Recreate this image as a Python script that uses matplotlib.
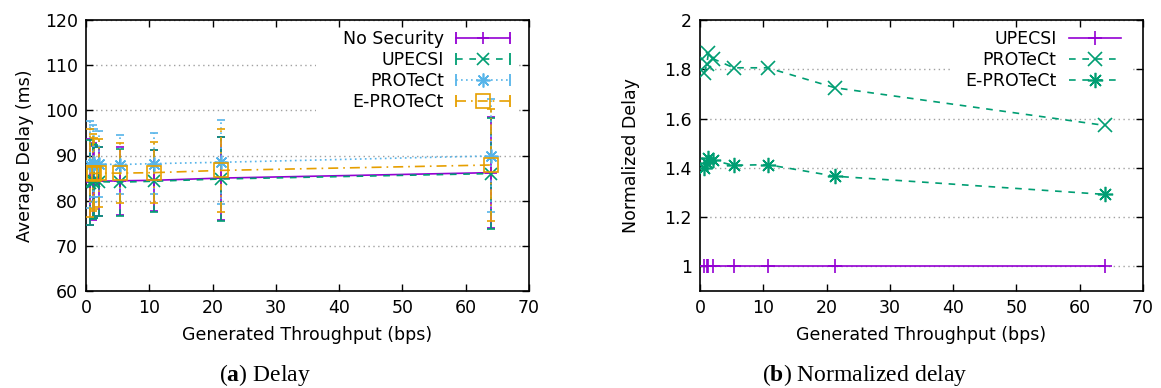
import matplotlib
matplotlib.use("Agg")
import matplotlib.pyplot as plt
from matplotlib.lines import Line2D
from matplotlib.patches import Rectangle
from matplotlib.legend_handler import HandlerBase
from matplotlib.container import ErrorbarContainer

plt.rcParams['font.family'] = ['DejaVu Sans']
plt.rcParams['mathtext.fontset'] = 'custom'
plt.rcParams['mathtext.rm'] = 'Liberation Serif'
plt.rcParams['mathtext.bf'] = 'Liberation Serif:bold'

# ---------------- data ----------------
throughput = [0.67, 1.07, 1.33, 2.13, 5.33, 10.67, 21.33, 64.0]

nosec_mean = [84.2, 84.3, 84.2, 84.3, 84.4, 84.5, 85.0, 86.2]
nosec_err = [9.5, 8.5, 8.0, 7.6, 7.5, 6.8, 9.2, 12.3]
upecsi_mean = [84.0, 84.2, 84.3, 84.2, 84.1, 84.3, 84.8, 86.0]
upecsi_err = [9.4, 8.3, 8.1, 7.6, 7.4, 6.9, 9.3, 12.2]
protect_mean = [88.0, 88.2, 88.3, 88.1, 88.0, 88.2, 88.5, 89.9]
protect_err = [9.6, 8.5, 7.5, 7.3, 6.5, 6.7, 9.3, 12.5]
eprotect_mean = [86.1, 86.2, 86.0, 86.1, 86.1, 86.2, 86.7, 87.9]
eprotect_err = [9.8, 8.5, 7.8, 7.6, 6.7, 6.7, 9.2, 12.3]

norm_upecsi = [1.003, 1.003, 1.003, 1.003, 1.003, 1.003, 1.003, 1.003]
norm_protect = [1.785, 1.82, 1.865, 1.842, 1.806, 1.806, 1.725, 1.572]
norm_eprotect = [1.40, 1.42, 1.44, 1.43, 1.41, 1.413, 1.366, 1.292]

labels_a = ["No Security", "UPECSI", "PROTeCt", "E-PROTeCt"]
labels_b = ["UPECSI", "PROTeCt", "E-PROTeCt"]
xticks = [0, 10, 20, 30, 40, 50, 60, 70]
yticks_a = [60, 70, 80, 90, 100, 110, 120]
yticks_b = [1, 1.2, 1.4, 1.6, 1.8, 2]
yticklabels_b = ["1", "1.2", "1.4", "1.6", "1.8", "2"]

PURPLE = "#9400d3"
GREEN = "#009e73"
BLUE = "#56b4e9"
ORANGE = "#e69f00"
FS = 12.5
AST = (8, 2, 0)


class GnuHandler(HandlerBase):
    def __init__(self, caps=True, **kw):
        super().__init__(**kw)
        self.caps = caps

    def create_artists(self, legend, orig_handle, xdescent, ydescent,
                       width, height, fontsize, trans):
        orig = orig_handle[0] if isinstance(orig_handle, ErrorbarContainer) else orig_handle
        y = height / 2.0 - ydescent
        x0 = -xdescent
        x1 = x0 + width
        arts = []
        ln = Line2D([x0, x1], [y, y])
        ln.update_from(orig)
        ln.set_marker('None')
        arts.append(ln)
        mk = Line2D([(x0 + x1) / 2.0], [y], linestyle='none', marker=orig.get_marker(),
                    markersize=orig.get_markersize(), markeredgecolor=orig.get_markeredgecolor(),
                    markerfacecolor=orig.get_markerfacecolor(),
                    markeredgewidth=orig.get_markeredgewidth())
        arts.append(mk)
        if self.caps:
            cp = Line2D([x0, x1], [y, y], linestyle='none', marker='|', markersize=8,
                        color=orig.get_color(), markeredgewidth=1.3)
            arts.append(cp)
        for a in arts:
            a.set_transform(trans)
        return arts


def style_axes(ax):
    ax.set_xlim(0, 70)
    ax.set_xticks(xticks)
    ax.tick_params(direction='in', top=True, right=True, length=5, width=1.0,
                   labelsize=FS, pad=6)
    for s in ax.spines.values():
        s.set_linewidth(1.2)
    ax.set_axisbelow(True)
    ax.yaxis.grid(True, color='#a0a0a0', linestyle=(0, (1, 2.5)), linewidth=1.0)
    ax.xaxis.grid(False)
    ax.set_xlabel("Generated Throughput (bps)", fontsize=FS, labelpad=6)


fig = plt.figure(figsize=(11.61, 3.88), dpi=100)
axA = fig.add_axes([86 / 1161, 97 / 388, 443 / 1161, 271 / 388])
axB = fig.add_axes([700 / 1161, 97 / 388, 443 / 1161, 271 / 388])

# ---------------- panel (a) ----------------
style_axes(axA)
axA.set_ylim(60, 120)
axA.set_yticks(yticks_a)
axA.set_ylabel("Average Delay (ms)", fontsize=FS, labelpad=8)

lw = 1.2
h1 = axA.errorbar(throughput, nosec_mean, yerr=nosec_err, color=PURPLE, lw=lw,
                  marker='+', ms=9, mew=1.2, capsize=3, elinewidth=lw, capthick=1.2,
                  label=labels_a[0], zorder=3)
h2 = axA.errorbar(throughput, upecsi_mean, yerr=upecsi_err, color=GREEN, lw=lw,
                  ls=(0, (4, 4)), marker='x', ms=8, mew=1.2, capsize=3, elinewidth=lw,
                  capthick=1.2, label=labels_a[1], zorder=3)
h2[2][0].set_linestyle((0, (4, 4)))
h3 = axA.errorbar(throughput, protect_mean, yerr=protect_err, color=BLUE, lw=lw,
                  ls=(0, (1, 2)), marker=AST, ms=10, mew=1.2, capsize=3, elinewidth=lw,
                  capthick=1.2, label=labels_a[2], zorder=3)
h3[2][0].set_linestyle((0, (1, 2)))
h4 = axA.errorbar(throughput, eprotect_mean, yerr=eprotect_err, color=ORANGE, lw=lw,
                  ls=(0, (6, 3, 1, 3)), marker='s', ms=10, mew=1.2, mfc='none',
                  capsize=3, elinewidth=lw, capthick=1.2, label=labels_a[3], zorder=3)
h4[2][0].set_linestyle((0, (6, 3, 1, 3)))

axA.add_patch(Rectangle((0.52, 0.64), 0.455, 0.33, transform=axA.transAxes,
                        facecolor='white', edgecolor='none', zorder=1))
legA = axA.legend(handles=[h1, h2, h3, h4], labels=labels_a, loc='upper right',
                  bbox_to_anchor=(0.957, 0.962), frameon=False, markerfirst=False,
                  fontsize=FS, handlelength=3.1, handletextpad=0.7, labelspacing=0.16,
                  borderpad=0, borderaxespad=0,
                  handler_map={ErrorbarContainer: GnuHandler(caps=True)})

# ---------------- panel (b) ----------------
style_axes(axB)
axB.set_ylim(0.9, 2.0)
axB.set_yticks(yticks_b)
axB.set_yticklabels(yticklabels_b)
axB.set_ylabel("Normalized Delay", fontsize=FS, labelpad=17)

g1, = axB.plot(throughput, norm_upecsi, color=PURPLE, lw=lw, marker='+', ms=10, mew=1.2,
               label=labels_b[0], zorder=3)
g2, = axB.plot(throughput, norm_protect, color=GREEN, lw=lw, ls=(0, (4, 4)), marker='x',
               ms=10, mew=1.2, label=labels_b[1], zorder=3)
g3, = axB.plot(throughput, norm_eprotect, color=GREEN, lw=lw, ls=(0, (4, 4)), marker=AST,
               ms=11, mew=1.2, label=labels_b[2], zorder=3)

axB.add_patch(Rectangle((0.57, 0.70), 0.405, 0.27, transform=axB.transAxes,
                        facecolor='white', edgecolor='none', zorder=1))
legB = axB.legend(handles=[g1, g2, g3], labels=labels_b, loc='upper right',
                  bbox_to_anchor=(0.950, 0.962), frameon=False, markerfirst=False,
                  fontsize=FS, handlelength=3.0, handletextpad=0.7, labelspacing=0.16,
                  borderpad=0, borderaxespad=0,
                  handler_map={Line2D: GnuHandler(caps=False)})

# captions
fig.text(265 / 1161, 13 / 388, r"($\mathbf{a}$) Delay", ha='center', va='center',
         fontsize=17, family='Liberation Serif')
fig.text(865 / 1161, 13 / 388, r"($\mathbf{b}$) Normalized delay", ha='center', va='center',
         fontsize=17, family='Liberation Serif')

fig.savefig("out.png", dpi=100)
